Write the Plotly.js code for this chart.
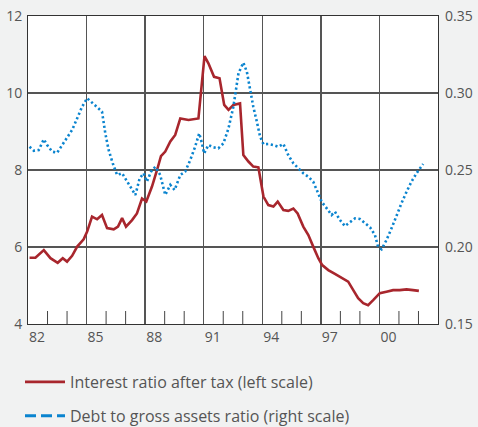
<!DOCTYPE html>
<html>
<head>
<meta charset="utf-8">
<script src="https://cdn.plot.ly/plotly-3.0.1.min.js"></script>
<style>html,body{margin:0;padding:0;background:#f1f2f2;}#chart{width:478px;height:427px;}</style>
</head>
<body>
<div id="chart"></div>
<script>
// Interest ratio after tax (left scale)
const interestYears = [1982.08,1982.38,1982.81,1983.15,1983.52,1983.78,1984.00,1984.26,1984.52,1984.85,1985.03,1985.28,1985.54,1985.79,1986.05,1986.39,1986.61,1986.82,1987.02,1987.33,1987.58,1987.84,1988.06,1988.35,1988.61,1988.81,1989.03,1989.29,1989.54,1989.80,1990.22,1990.73,1991.04,1991.24,1991.53,1991.81,1992.05,1992.27,1992.52,1992.78,1992.86,1993.03,1993.29,1993.54,1993.80,1994.06,1994.31,1994.57,1994.79,1995.08,1995.33,1995.59,1995.81,1996.10,1996.36,1996.61,1996.87,1997.07,1997.38,1997.72,1998.06,1998.40,1998.66,1998.91,1999.17,1999.42,1999.68,2000.02,2000.36,2000.70,2001.04,2001.39,2001.72,2002.02];
const interestRatio = [5.72,5.72,5.92,5.71,5.59,5.71,5.62,5.77,6.01,6.20,6.40,6.79,6.72,6.83,6.49,6.46,6.53,6.75,6.53,6.70,6.87,7.26,7.18,7.57,8.00,8.36,8.48,8.74,8.91,9.34,9.30,9.34,10.96,10.77,10.42,10.38,9.69,9.56,9.69,9.73,9.73,8.39,8.22,8.09,8.07,7.31,7.09,7.05,7.18,6.96,6.94,7.00,6.87,6.53,6.31,6.01,5.71,5.53,5.40,5.30,5.21,5.10,4.88,4.67,4.54,4.49,4.62,4.80,4.84,4.88,4.88,4.90,4.88,4.86];

// Debt to gross assets ratio (right scale)
const debtYears = [1982.08,1982.30,1982.55,1982.81,1982.98,1983.24,1983.49,1983.75,1984.00,1984.26,1984.52,1984.77,1985.03,1985.28,1985.54,1985.79,1985.96,1986.13,1986.34,1986.56,1986.82,1987.07,1987.33,1987.50,1987.72,1987.92,1988.09,1988.30,1988.52,1988.77,1989.03,1989.29,1989.51,1989.80,1990.05,1990.31,1990.56,1990.77,1990.91,1991.02,1991.24,1991.50,1991.75,1992.01,1992.27,1992.52,1992.78,1993.03,1993.21,1993.38,1993.54,1993.72,1993.89,1994.06,1994.31,1994.57,1994.82,1995.08,1995.33,1995.59,1995.84,1996.10,1996.36,1996.61,1996.79,1997.04,1997.30,1997.55,1997.72,1997.98,1998.23,1998.49,1998.75,1999.00,1999.26,1999.52,1999.77,1999.93,2000.11,2000.36,2000.62,2000.88,2001.13,2001.39,2001.64,2001.90,2002.24];
const debtRatio = [0.2651,0.2625,0.2630,0.2699,0.2662,0.2619,0.2612,0.2662,0.2716,0.2760,0.2836,0.2911,0.2966,0.2937,0.2907,0.2879,0.2738,0.2630,0.2544,0.2468,0.2479,0.2424,0.2370,0.2338,0.2446,0.2479,0.2424,0.2489,0.2521,0.2468,0.2338,0.2403,0.2370,0.2468,0.2489,0.2565,0.2651,0.2738,0.2673,0.2608,0.2662,0.2647,0.2641,0.2673,0.2771,0.2911,0.3128,0.3197,0.3138,0.3019,0.2911,0.2814,0.2716,0.2667,0.2669,0.2662,0.2651,0.2669,0.2597,0.2544,0.2515,0.2479,0.2456,0.2424,0.2370,0.2294,0.2251,0.2208,0.2229,0.2175,0.2136,0.2164,0.2186,0.2182,0.2154,0.2128,0.2078,0.2002,0.1985,0.2045,0.2121,0.2208,0.2284,0.2359,0.2424,0.2479,0.2539];

// Tick labels and tick positions
const labelYears = [1982,1985,1988,1991,1994,1997,2000];
const yearLabels = ['82','85','88','91','94','97','00'];
const minorYears = [1983,1984,1986,1987,1989,1990,1992,1993,1995,1996,1998,1999,2001,2002];
const gridYears = [1985,1988,1991,1994,1997,2000];
const leftTicks = [4,6,8,10,12];
const rightTicks = [0.15,0.20,0.25,0.30,0.35];

const seriesNames = ['Interest ratio after tax (left scale)','Debt to gross assets ratio (right scale)'];

const red = '#a8262d';
const blue = '#0a84cf';
const textColor = '#555555';
const fam = 'Open Sans, Noto Sans, sans-serif';

const traces = [
  {x: interestYears, y: interestRatio, type: 'scatter', mode: 'lines', name: seriesNames[0],
   line: {color: red, width: 2.6}, xaxis: 'x', yaxis: 'y', legendgroup: 'a', showlegend: true},
  {x: debtYears, y: debtRatio, type: 'scatter', mode: 'lines', name: seriesNames[1],
   line: {color: blue, width: 2.6, dash: '2.2px,2.6px'}, xaxis: 'x2', yaxis: 'y2', showlegend: false},
  {x: [null], y: [null], type: 'scatter', mode: 'lines', name: seriesNames[1],
   line: {color: blue, width: 3, dash: '11px,5px'}, xaxis: 'x2', yaxis: 'y2', legendgroup: 'b', showlegend: true}
];

// short inside tick marks at each year along the bottom edge (13 px of the 308 px plot height)
const tickShapes = minorYears.map(function (yr) {
  return {type: 'line', xref: 'x', yref: 'paper', x0: yr, x1: yr, y0: 0, y1: 13 / 308,
          line: {color: '#444', width: 1}, layer: 'above'};
});

const layout = {
  width: 478, height: 427,
  paper_bgcolor: '#f1f2f2', plot_bgcolor: '#ffffff',
  margin: {l: 28, r: 40, t: 16, b: 103},
  font: {family: fam, size: 14, color: textColor},
  showlegend: true,
  shapes: tickShapes,
  xaxis: {
    range: [1982, 2003], tickmode: 'array', tickvals: labelYears, ticktext: yearLabels,
    showgrid: false, ticks: '',
    showline: true, linecolor: '#333', linewidth: 1, mirror: true,
    ticklabelshift: 9, zeroline: false, automargin: false
  },
  xaxis2: {
    range: [1982, 2003], overlaying: 'x', anchor: 'y2', side: 'bottom',
    tickmode: 'array', tickvals: gridYears, showticklabels: false, ticks: '',
    showgrid: true, gridcolor: '#555555', gridwidth: 1.3, zeroline: false, showline: false
  },
  yaxis: {
    range: [4, 12], tickvals: leftTicks, showgrid: true, gridcolor: '#555555', gridwidth: 1.3,
    ticks: '', showline: true, linecolor: '#333', linewidth: 1, mirror: true, zeroline: false,
    ticklabelstandoff: 2, automargin: false
  },
  yaxis2: {
    range: [0.15, 0.35], tickvals: rightTicks, tickformat: '.2f', overlaying: 'y', side: 'right', anchor: 'x2',
    showgrid: false, ticks: '', zeroline: false, ticklabelstandoff: 6, automargin: false
  },
  legend: {
    xref: 'paper', yref: 'container',
    x: (20 - 28) / 410, y: 1 - 365 / 427, xanchor: 'left', yanchor: 'top',
    bgcolor: 'rgba(0,0,0,0)', font: {family: fam, size: 16, color: textColor},
    traceorder: 'grouped', tracegroupgap: 10, itemwidth: 40
  }
};

Plotly.newPlot('chart', traces, layout, {displayModeBar: false, staticPlot: true});
</script>
</body>
</html>
